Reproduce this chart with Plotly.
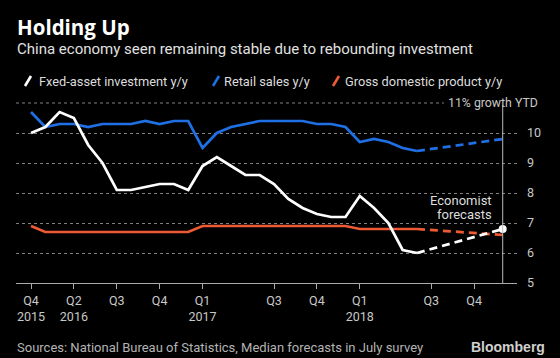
import pandas as pd
import plotly.graph_objects as go

# Categories: monthly, January omitted (Jan-Feb reported together)
months = [d.strftime("%b %Y") for d in pd.date_range("2015-12-01", "2018-12-01", freq="MS") if d.month != 1]
actual_months = months[:28]  # Dec 2015 .. Jun 2018
forecast_months = ["Jun 2018", "Dec 2018"]

fai = [10.0, 10.2, 10.7, 10.5, 9.6, 9.0, 8.1, 8.1, 8.2, 8.3, 8.3, 8.1,
       8.9, 9.2, 8.9, 8.6, 8.6, 8.3, 7.8, 7.5, 7.3, 7.2, 7.2,
       7.9, 7.5, 7.0, 6.1, 6.0]
retail = [10.7, 10.2, 10.3, 10.3, 10.2, 10.3, 10.3, 10.3, 10.4, 10.3, 10.4, 10.4,
          9.5, 10.0, 10.2, 10.3, 10.4, 10.4, 10.4, 10.4, 10.3, 10.3, 10.2,
          9.7, 9.8, 9.7, 9.5, 9.4]
gdp = [6.9, 6.7, 6.7, 6.7, 6.7, 6.7, 6.7, 6.7, 6.7, 6.7, 6.7, 6.7,
       6.9, 6.9, 6.9, 6.9, 6.9, 6.9, 6.9, 6.9, 6.9, 6.9, 6.9,
       6.8, 6.8, 6.8, 6.8, 6.8]
fai_fc = [6.0, 6.8]
retail_fc = [9.4, 9.8]
gdp_fc = [6.8, 6.6]

tick_months = ["Dec 2015", "Apr 2016", "Jul 2016", "Oct 2016", "Feb 2017",
               "Jul 2017", "Oct 2017", "Feb 2018", "Jul 2018", "Oct 2018"]
tick_text = ["Q4<br>2015", "Q2<br>2016", "Q3", "Q4", "Q1<br>2017",
             "Q3", "Q4", "Q1<br>2018", "Q3", "Q4"]
y_ticks = [5, 6, 7, 8, 9, 10]

WHITE = "#ffffff"
BLUE = "#1f6fe5"
ORANGE = "#ee5a35"
FONT = "Roboto"
GRID = "#808080"
TICKC = "#c8c8c8"

fig = go.Figure()
fig.add_trace(go.Scatter(x=actual_months, y=gdp, mode="lines", name="Gross domestic product y/y",
                         line=dict(color=ORANGE, width=2.7)))
fig.add_trace(go.Scatter(x=forecast_months, y=gdp_fc, mode="lines", showlegend=False,
                         line=dict(color=ORANGE, width=2.7, dash="8px,5px")))
fig.add_trace(go.Scatter(x=actual_months, y=retail, mode="lines", name="Retail sales y/y",
                         line=dict(color=BLUE, width=2.7)))
fig.add_trace(go.Scatter(x=forecast_months, y=retail_fc, mode="lines", showlegend=False,
                         line=dict(color=BLUE, width=2.7, dash="8px,5px")))
fig.add_trace(go.Scatter(x=actual_months, y=fai, mode="lines", name="Fxed-asset investment y/y",
                         line=dict(color=WHITE, width=2.7)))
fig.add_trace(go.Scatter(x=forecast_months, y=fai_fc, mode="lines", showlegend=False,
                         line=dict(color=WHITE, width=2.7, dash="8px,5px")))
fig.add_trace(go.Scatter(x=forecast_months[-1:], y=fai_fc[-1:], mode="markers", showlegend=False,
                         marker=dict(color=WHITE, size=8)))

fc_idx = months.index("Dec 2018")


def px_x(px):
    return (px - 16) / 501


def px_y(py):
    return (283 - py) / 183


shapes = [
    dict(type="line", xref="paper", yref="y", x0=0, x1=px_x(444), y0=11, y1=11,
         line=dict(color=GRID, width=1, dash="dot")),
    dict(type="line", xref="x", yref="y", x0=fc_idx, x1=fc_idx, y0=5, y1=10.93,
         line=dict(color="#bbbbbb", width=1)),
]
# legend icons (short slanted strokes)
for x0, c in [(25, WHITE), (213, BLUE), (333, ORANGE)]:
    shapes.append(dict(type="line", xref="paper", yref="paper",
                       x0=px_x(x0), x1=px_x(x0 + 6), y0=px_y(86), y1=px_y(76),
                       line=dict(color=c, width=2.6)))

fig.update_layout(
    width=560, height=358,
    margin=dict(l=16, r=43, t=100, b=75),
    paper_bgcolor="black", plot_bgcolor="black",
    showlegend=False,
    font=dict(family=FONT, color="#cccccc", size=13),
    xaxis=dict(type="category", categoryorder="array", categoryarray=months,
               range=[-1.05, 34], tickmode="array", tickvals=tick_months, ticktext=tick_text,
               showgrid=False, showline=True, linecolor="#aaaaaa", linewidth=1,
               ticks="outside", ticklen=5, tickcolor="#aaaaaa", ticklabelstandoff=1,
               tickfont=dict(family=FONT, size=12.5, color=TICKC), zeroline=False),
    yaxis=dict(side="right", range=[5, 11.1], tickmode="array", tickvals=y_ticks,
               showgrid=True, gridcolor=GRID, griddash="dot", gridwidth=1,
               ticks="", ticklabelstandoff=9, zeroline=False,
               tickfont=dict(family=FONT, size=12.5, color=TICKC)),
    shapes=shapes,
)

ann = [
    dict(text="<b>Holding Up</b>", x=px_x(15), y=px_y(27),
         font=dict(family="Open Sans", size=20.5, color="#ffffff")),
    dict(text="China economy seen remaining stable due to rebounding investment",
         x=px_x(15), y=px_y(49), font=dict(size=15, color="#e0e0e0")),
    dict(text="Fxed-asset investment y/y", x=px_x(37), y=px_y(81),
         font=dict(size=12.8, color="#dddddd")),
    dict(text="Retail sales y/y", x=px_x(222), y=px_y(81),
         font=dict(size=12.8, color="#dddddd")),
    dict(text="Gross domestic product y/y", x=px_x(343), y=px_y(81),
         font=dict(size=12.8, color="#dddddd")),
    dict(text="Sources: National Bureau of Statistics, Median forecasts in July survey",
         x=px_x(15), y=px_y(347), font=dict(size=13, color="#b4b4b4")),
]
for a in ann:
    fig.add_annotation(xref="paper", yref="paper", xanchor="left", yanchor="middle",
                       showarrow=False, **a)

fig.add_annotation(text="<b>Bloomberg</b>", xref="paper", yref="paper", x=px_x(547), y=px_y(347),
                   xanchor="right", yanchor="middle", showarrow=False,
                   font=dict(family="Liberation Sans", size=14, color="#d0d0d0"))
fig.add_annotation(text="11% growth YTD", xref="paper", yref="y", x=px_x(540), y=11,
                   xanchor="right", yanchor="middle", showarrow=False,
                   font=dict(size=12.3, color=TICKC))
for txt, py in [("Economist", 200.5), ("forecasts", 214)]:
    fig.add_annotation(text=txt, xref="paper", yref="paper", x=px_x(494), y=px_y(py),
                       xanchor="right", yanchor="middle", showarrow=False,
                       font=dict(size=13, color="#dddddd"))

fig.write_html("out.html", config={"displayModeBar": False},
               post_script="document.body.style.margin='0';")
